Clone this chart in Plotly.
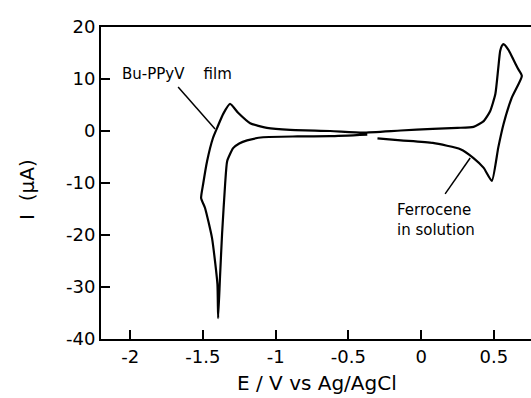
import plotly.graph_objects as go

# CV trace (Bu-PPyV film + ferrocene), potential in V vs Ag/AgCl, current in uA
E = [-0.37, -0.625, -0.85, -1.086, -1.196, -1.25, -1.292, -1.333, -1.347, -1.368, -1.382, -1.395,
     -1.40, -1.437, -1.485, -1.512, -1.498, -1.471, -1.43, -1.402, -1.36, -1.313, -1.258,
     -1.175, -1.06, -0.90, -0.625, -0.40, -0.14, 0.08, 0.25, 0.36, 0.43, 0.474, 0.51, 0.53,
     0.543, 0.555, 0.566, 0.60, 0.633, 0.665, 0.692, 0.623, 0.566, 0.53, 0.486, 0.43, 0.36,
     0.27, 0.08, -0.14, -0.30]
I = [-0.7, -1.0, -1.05, -1.2, -1.8, -2.4, -3.3, -5.8, -10.2, -19.8, -28.0, -36.0,
     -29.4, -20.6, -14.8, -12.9, -10.2, -5.8, -1.3, 0.6, 3.3, 5.2, 3.5,
     1.5, 0.6, 0.2, 0.0, -0.3, 0.1, 0.4, 0.6, 0.8, 1.9, 3.8, 7.1, 12.1,
     15.4, 16.4, 16.7, 15.6, 13.8, 12.0, 10.6, 6.4, 1.3, -3.2, -9.6, -7.1, -5.2,
     -3.5, -2.3, -1.8, -1.4]

x_ticks = [-2, -1.5, -1, -0.5, 0, 0.5]
x_tick_text = ["-2", "-1.5", "-1", "-0.5", "0", "0.5"]
y_ticks = [-40, -30, -20, -10, 0, 10, 20]
y_tick_text = ["-40", "-30", "-20", "-10", "0", "10", "20"]

FONT = "DejaVu Sans"
NB = "\u00a0"

fig = go.Figure()
fig.add_trace(go.Scatter(x=E, y=I, mode="lines",
                         line=dict(color="black", width=2.2, shape="spline", smoothing=0.5),
                         showlegend=False, hoverinfo="skip"))

fig.update_layout(
    width=531, height=398,
    margin=dict(l=101, r=0, t=27, b=59),
    paper_bgcolor="white", plot_bgcolor="white",
    font=dict(family=FONT, color="black", size=15),
    xaxis=dict(range=[-2.2, 0.755], tickvals=x_ticks, ticktext=x_tick_text,
               showgrid=False, zeroline=False, showline=True, linecolor="black",
               linewidth=2, mirror=True, ticks="inside", ticklen=9, tickwidth=2,
               tickcolor="black", tickfont=dict(size=18, family=FONT)),
    yaxis=dict(range=[-40, 20], tickvals=y_ticks, ticktext=y_tick_text,
               showgrid=False, zeroline=False, showline=True, linecolor="black",
               linewidth=2, ticks="inside", ticklen=9, tickwidth=2,
               tickcolor="black", tickfont=dict(size=18, family=FONT)),
    annotations=[
        dict(text="I" + NB + NB + "(\u03bcA)", xref="paper", yref="paper", x=-0.172, y=0.478,
             textangle=-90, showarrow=False, font=dict(size=20, family=FONT),
             xanchor="center", yanchor="middle"),
        dict(text="E" + NB + "/" + NB + "V" + NB + "vs" + NB + "Ag/AgCl", xref="paper", yref="paper",
             x=0.502, y=-0.142,
             showarrow=False, font=dict(size=20, family=FONT),
             xanchor="center", yanchor="middle"),
        dict(text="Bu-PPyV" + NB * 4 + "film", x=-2.069, y=10.96, xref="x", yref="y",
             showarrow=False, xanchor="left", yanchor="middle",
             font=dict(size=15, family=FONT)),
        dict(text="Ferrocene<br>in solution", x=-0.178, y=-17.2, xref="x", yref="y",
             showarrow=False, xanchor="left", yanchor="middle", align="left",
             font=dict(size=15, family=FONT)),
    ],
    shapes=[
        dict(type="line", xref="x", yref="y", x0=-1.670, y0=8.46, x1=-1.416, y1=0.4,
             line=dict(color="black", width=1.5)),
        dict(type="line", xref="x", yref="y", x0=0.165, y0=-12.1, x1=0.337, y1=-5.2,
             line=dict(color="black", width=1.5)),
    ],
)

fig.write_html("out.html")
